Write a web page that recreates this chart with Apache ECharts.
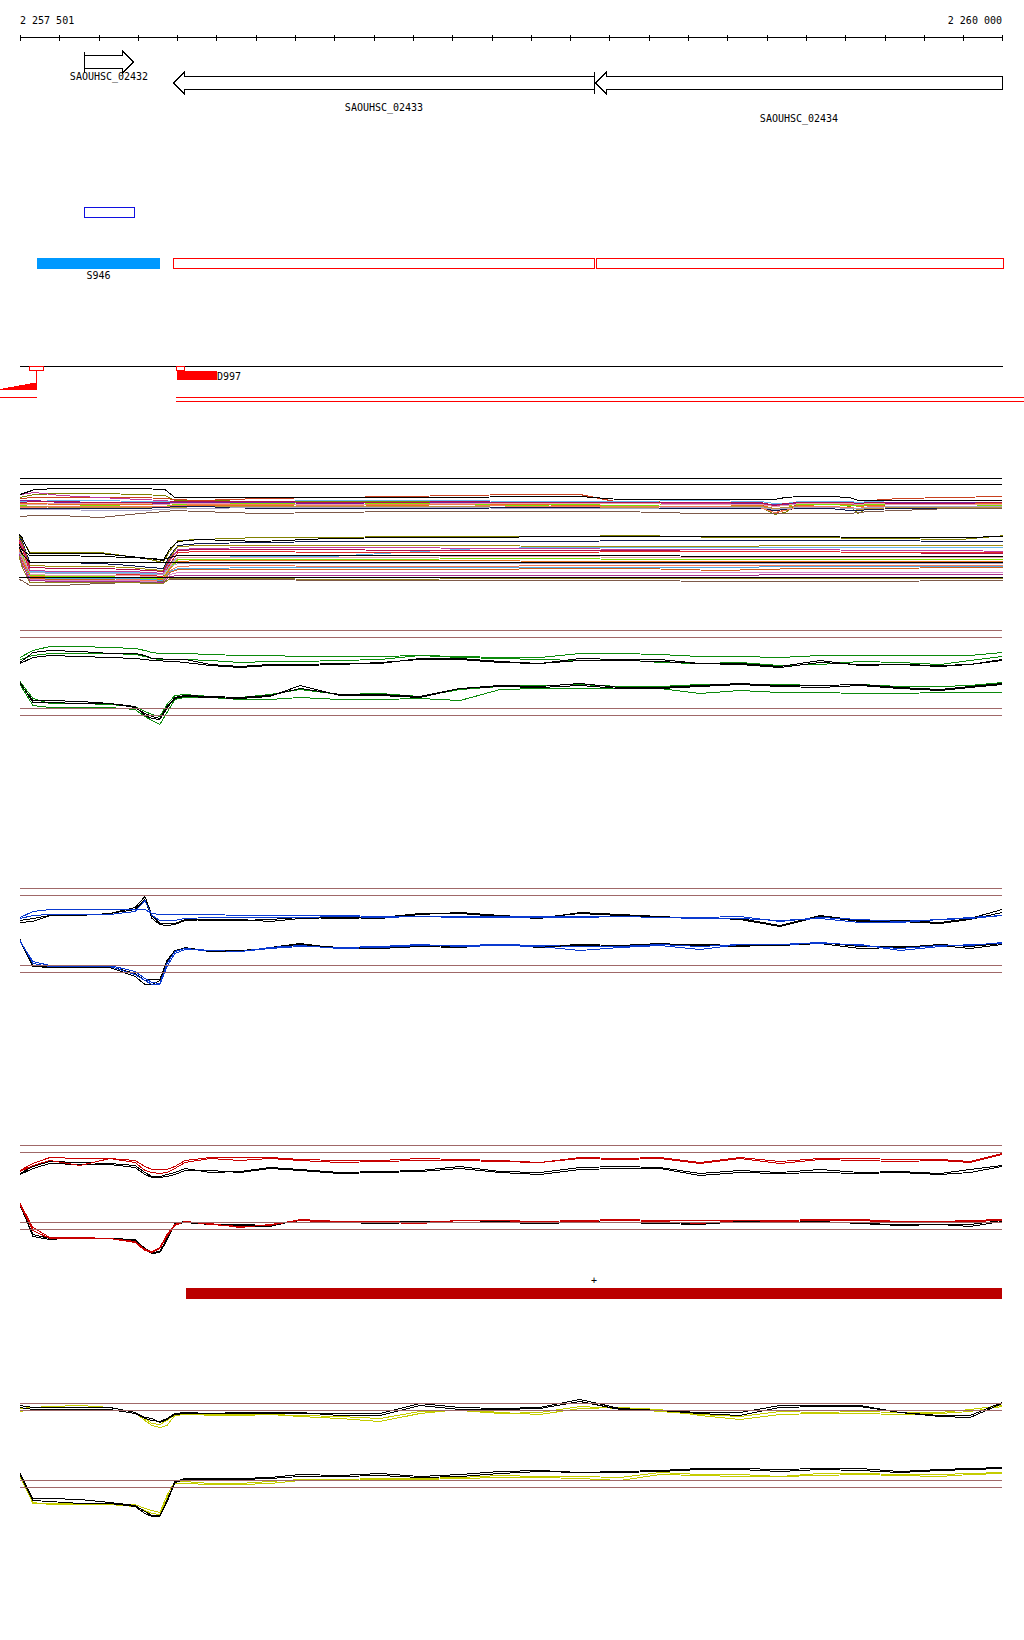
<!DOCTYPE html>
<html><head><meta charset="utf-8">
<script src="https://cdn.jsdelivr.net/npm/echarts@6/dist/echarts.min.js"></script>
<style>html,body{margin:0;padding:0;background:#fff}#c{width:1024px;height:1640px}#c svg path,#c svg line,#c svg rect,#c svg polygon,#c svg polyline{shape-rendering:crispEdges}</style>
</head><body><div id="c"></div>
<script>
// ---------------- DATA ----------------
const VIEW_START = 2257501, VIEW_END = 2260000;
const rulerTicks = [2257501,2257601,2257701,2257801,2257901,2258001,2258101,2258201,2258301,2258401,2258501,2258601,2258701,2258801,2258901,2259001,2259101,2259201,2259301,2259401,2259501,2259601,2259701,2259801,2259901,2260000];
const rulerLabels = ['2 257 501', '2 260 000'];

const geneNames  = ['SAOUHSC_02432', 'SAOUHSC_02433', 'SAOUHSC_02434'];
const geneStart  = [2257664, 2257890, 2258964];
const geneEnd    = [2257789, 2258962, 2260120];
const geneStrand = ['+', '-', '-'];

const motifStart = [2257664];
const motifEnd   = [2257791];
const blockNames = ['S946'];
const blockStart = [2257544];
const blockEnd   = [2257857];
const regionStart = [2257890, 2258967];
const regionEnd   = [2258962, 2260003];

const covMarkStart = [2257524, 2257898];
const covMarkEnd   = [2257560, 2257918];
const covPos = [2257450, 2257457, 2257470, 2257485, 2257498, 2257513, 2257527, 2257544];
const covVal = [1, 2, 3, 4, 5, 6, 7];
const segNames = ['D997'];
const segStart = [2257901];
const segEnd   = [2258002];
const readLineA = [[2257450, 2257544], [2257898, 2260056]];
const readLineB = [[2257898, 2260056]];

const barStart = [2257923];
const barEnd   = [2260000];
const barStrand = ['+'];

// multi-condition track
const MT_X = [2257501,2257539,2257603,2257705,2257806,2257870,2257895,2257959,2258112,2258290,2258468,2258621,2258773,2258926,2259028,2259231,2259384,2259422,2259448,2259486,2259562,2259613,2259634,2259664,2259740,2259867,2260000];
const mT1 = [96,101,102,102,102,101,93,93,93,93,93,93,94,94,91,91,91,91,93,94,94,93,90,90,90,90,90];
const mT2 = [93,96,97,97,96,95,90,90,89,89,89,88,88,89,89,88,84,76,78,87,88,84,77,84,87,88,88];
const mT3 = [92,93,93,93,93,92,91,90,92,93,94,95,96,96,88,88,88,77,81,87,87,85,85,90,92,93,94];
const mT4 = [96,98,95,93,91,90,88,87,87,88,88,87,87,88,88,87,87,85,86,87,87,87,85,87,87,87,87];
const mT5 = [89,89,90,90,89,89,88,89,89,90,90,90,89,89,89,90,89,87,87,89,89,89,88,89,90,90,90];
const mT6 = [87,87,86,86,86,86,85,85,85,86,85,86,86,85,85,86,85,82,83,85,86,86,84,85,86,87,87];
const mT7 = [85,84,84,85,84,84,86,86,87,86,87,86,85,86,85,86,86,84,85,86,86,85,85,86,86,86,85];
const mT8 = [90,90,88,88,87,87,88,88,88,87,88,88,88,87,88,88,87,86,86,88,88,87,86,88,88,88,88];
const mT9 = [86,86,87,87,87,86,87,87,86,86,86,87,87,87,87,86,86,84,85,87,87,87,86,87,86,86,86];
const mT10 = [88,89,89,88,88,88,89,89,89,88,88,89,88,88,88,88,88,85,87,88,88,88,87,88,87,87,88];
const mT11 = [84,84,83,83,83,83,83,84,84,84,84,84,83,83,83,84,84,82,83,84,84,83,81,82,83,83,83];
const mT12 = [82,82,82,82,82,83,84,84,82,82,82,82,83,83,82,82,82,80,81,82,82,80,80,81,82,82,82];
const mT13 = [83,83,84,84,84,84,85,86,86,85,86,86,84,84,84,84,83,78,80,84,84,83,82,84,84,84,84];
const mT14 = [74,75,75,73,77,79,80,79,77,78,79,79,79,79,79,77,77,77,77,77,77,77,78,79,80,82,82];
const mT15 = [81,81,81,80,80,81,82,82,83,83,83,83,82,82,82,83,83,81,82,83,83,82,82,83,84,84,84];

const MB_X = [2257491,2257506,2257526,2257603,2257705,2257781,2257832,2257865,2257883,2257903,2257959,2258112,2258290,2258468,2258672,2258875,2259079,2259283,2259486,2259690,2259893,2260010];
const mB1 = [59,53,37,37,37,34,32,30,42,49,51,49,52,53,53,54,54,54,54,53,53,54];
const mB2 = [58,52,38,38,38,34,31,28,40,50,51,53,53,54,54,54,55,53,53,52,51,55];
const mB3 = [57,50,28,28,27,25,23,22,35,45,47,48,49,49,49,49,50,50,50,50,49,49];
const mB4 = [56,48,25,24,24,23,21,20,33,44,45,45,45,45,45,44,44,44,45,45,45,45];
const mB5 = [42,38,19,18,18,18,17,17,28,33,33,34,34,38,42,43,43,43,43,43,43,43];
const mB6 = [55,46,23,22,22,21,20,19,32,40,41,41,41,40,40,40,40,39,39,38,37,37];
const mB7 = [54,45,20,19,19,19,18,17,30,41,42,43,43,43,42,42,41,41,41,40,40,39];
const mB8 = [53,43,18,17,17,16,15,14,27,38,39,39,38,38,38,38,39,39,39,38,38,38];
const mB9 = [52,41,35,35,34,33,32,31,33,35,35,35,35,35,35,35,35,34,34,34,34,34];
const mB10 = [51,39,16,15,15,15,14,13,25,33,33,33,33,33,34,34,33,33,33,33,33,33];
const mB11 = [50,37,15,14,14,13,12,12,23,31,31,31,31,31,32,32,31,31,31,31,31,31];
const mB12 = [49,35,14,13,13,12,11,11,22,29,30,30,30,30,30,29,29,29,29,29,29,29];
const mB13 = [50,37,28,28,28,28,28,28,28,28,28,28,28,28,28,28,28,28,28,28,28,28];
const mB14 = [48,32,13,12,12,11,10,10,20,24,25,25,24,24,24,25,25,25,25,25,25,25];
const mB15 = [40,30,13,12,12,12,11,10,19,22,22,23,23,23,23,23,23,23,24,24,24,24];
const mB16 = [47,30,12,11,11,10,9,9,18,21,21,21,21,21,21,22,22,20,22,22,23,23];
const mB17 = [46,28,11,10,10,10,9,8,16,18,18,18,18,18,18,18,18,18,18,18,18,18];
const mB18 = [45,27,10,9,9,9,8,8,14,15,15,15,15,15,15,15,15,15,16,16,16,16];
const mB19 = [13,13,13,13,13,13,13,13,13,13,13,13,13,13,13,13,13,13,13,13,13,13];
const mB20 = [12,10,5,5,7,8,8,9,11,11,11,11,10,10,10,10,10,9,9,9,10,10];
const mB21 = [44,24,8,8,8,8,7,7,12,12,12,12,11,11,12,12,12,12,12,12,12,12];
const mB22 = [43,34,18,17,17,17,16,16,24,27,27,27,27,27,27,27,27,27,27,27,27,27];
const multiRefs = [112, 106];

// paired condition tracks
const P_X = [2257501,2257534,2257577,2257654,2257730,2257794,2257819,2257837,2257857,2257875,2257895,2257921,2257985,2258061,2258137,2258214,2258315,2258417,2258519,2258621,2258723,2258824,2258926,2259028,2259130,2259231,2259333,2259435,2259537,2259639,2259740,2259842,2259919,2260000];

const gTopC1 = [73,80,84,84,83,82,80,78,77,77,77,77,76,75,75,74,74,74,75,74,73,73,77,77,76,74,74,73,75,75,75,75,75,78];
const gTopC2 = [71,75,77,77,77,76,74,72,71,71,71,71,70,68,69,69,70,71,75,73,72,71,70,71,68,67,68,65,66,69,68,66,70,74];
const gTopK1 = [68,78,80,79,77,77,75,72,72,71,71,71,66,64,66,66,67,67,72,72,69,67,72,71,71,67,67,64,70,65,66,65,66,71];
const gTopK2 = [67,73,75,74,73,72,71,70,70,69,69,68,65,63,65,65,66,68,71,71,68,67,70,70,69,67,66,63,68,66,66,64,66,70];
const gBotK1 = [48,28,28,27,27,24,15,12,11,22,33,35,34,33,35,42,36,36,34,42,45,44,47,43,43,45,47,45,45,46,43,41,44,47];
const gBotK2 = [47,30,30,29,27,23,17,14,12,24,32,34,33,32,34,45,35,35,33,42,44,43,45,42,42,44,46,44,43,45,42,40,43,46];
const gBotC1 = [46,25,23,23,23,21,14,10,6,18,31,33,33,31,31,33,31,31,32,30,41,42,42,42,42,37,40,38,38,37,37,38,38,38];
const gBotC2 = [49,32,27,27,26,24,19,16,14,26,35,36,34,33,36,41,36,37,34,41,44,45,46,44,44,46,46,46,45,46,44,44,45,48];
const greenRefs = [100, 93, 22, 15];

const bTopC1 = [73,79,81,81,81,81,81,77,76,76,76,76,76,75,75,75,75,74,74,74,74,74,74,74,73,73,74,69,73,71,69,71,72,75];
const bTopC2 = [72,75,76,76,76,79,90,75,70,70,70,72,73,73,73,73,74,73,74,73,73,73,73,74,73,72,72,70,72,68,68,71,73,75];
const bTopK1 = [70,72,75,75,77,83,94,75,67,67,67,71,70,70,71,73,72,73,77,77,74,72,78,76,74,72,72,65,75,70,70,68,72,81];
const bTopK2 = [68,69,75,75,77,81,91,72,66,65,66,70,71,71,69,72,73,72,76,78,75,73,77,75,73,73,71,64,74,69,69,67,71,78];
const bBotK1 = [51,24,23,23,23,14,6,6,10,28,39,43,39,39,43,47,42,42,44,43,46,43,45,44,46,46,45,45,47,42,43,46,44,47];
const bBotK2 = [50,24,24,24,24,17,10,11,11,30,40,42,39,40,42,46,43,43,45,44,45,44,46,45,47,45,44,46,48,44,44,45,42,46];
const bBotC1 = [50,27,24,24,24,16,10,6,6,24,37,41,40,39,42,44,43,44,46,44,45,44,40,43,45,41,46,46,47,46,40,44,46,47];
const bBotC2 = [49,29,25,25,25,19,12,8,7,27,39,42,40,39,43,45,42,43,45,45,46,45,44,44,46,44,46,46,48,45,42,45,45,48];
const blueRefs = [102, 95, 25, 18];

const rTopC1 = [90,97,103,102,102,100,94,91,91,91,94,100,103,103,103,101,100,100,102,101,100,98,103,102,103,98,103,99,102,102,101,101,99,107];
const rTopC2 = [89,95,100,95,102,98,90,88,87,88,92,98,102,100,102,100,98,99,100,100,99,98,102,101,102,97,102,97,101,100,99,100,98,106];
const rTopK1 = [87,94,99,98,97,95,88,84,84,86,88,92,88,89,93,91,88,89,90,94,89,88,93,94,93,87,90,88,91,88,89,87,91,95];
const rTopK2 = [86,92,97,96,96,93,86,83,83,84,86,90,90,88,92,90,87,88,89,92,88,86,91,92,92,85,88,87,88,87,88,86,88,94];
const rBotC1 = [56,30,22,22,22,18,10,8,12,24,35,39,36,34,35,41,39,38,37,40,40,39,40,41,40,40,40,40,41,41,39,39,40,41];
const rBotC2 = [57,33,23,23,22,19,11,9,13,26,36,39,37,33,36,40,38,39,38,40,40,38,39,40,39,37,40,39,40,40,38,38,39,40];
const rBotK1 = [56,24,21,23,22,20,11,7,8,20,37,39,36,35,34,41,38,38,39,38,39,37,39,38,38,37,40,38,39,37,35,36,36,40];
const rBotK2 = [55,26,22,23,22,21,12,8,9,22,36,38,36,36,35,40,38,37,38,38,38,37,38,38,37,36,39,38,39,37,36,36,34,39];
const redRefs = [115, 108, 38, 31];

const yTopK1 = [115,113,113,113,113,108,103,102,98,101,106,107,107,107,107,107,107,107,117,113,112,113,121,112,110,108,108,115,115,115,108,105,105,118];
const yTopK2 = [113,111,111,111,111,107,102,100,99,102,107,108,107,108,108,108,105,105,115,111,111,112,119,111,110,107,105,113,114,114,108,104,103,117];
const yTopC1 = [112,113,114,115,113,108,100,95,93,95,105,106,106,106,106,104,102,99,107,111,108,106,112,113,111,105,101,106,107,107,106,107,109,114];
const yTopC2 = [109,111,111,111,111,107,102,97,96,100,106,107,105,105,106,105,104,102,109,110,107,108,114,112,109,106,104,109,108,109,108,108,111,115];
const yBotK1 = [47,22,22,21,18,15,9,5,5,20,39,42,42,42,43,46,45,47,44,46,49,50,48,49,50,52,52,51,52,52,49,51,52,53];
const yBotK2 = [46,20,19,17,17,14,7,4,4,18,38,41,41,41,42,44,44,45,43,44,47,49,48,48,49,51,51,49,51,50,48,50,51,52];
const yBotC1 = [45,17,17,17,17,16,12,10,8,25,39,39,37,37,39,41,41,42,42,43,45,44,44,43,48,46,46,44,47,47,46,46,47,48];
const yBotC2 = [44,18,16,16,16,14,10,7,6,22,37,37,36,36,37,40,40,41,41,42,43,43,42,40,46,45,44,44,45,46,45,44,46,47];
const yellowRefs = [117, 110, 40, 33];

// ---------------- LAYOUT / STYLE ----------------
const FONT = "10px 'DejaVu Sans Mono', monospace";
const PLOT_LEFT = 20, PLOT_W = 982;
const RULER_Y = 37.5;
const geneRowY = [62, 83, 83];
const geneLabelY = [76.5, 107, 118.5];
const HEAD = 11, BODY_H = 6.5, HEAD_H = 11;
const MOTIF_Y = 207.5, MOTIF_H = 10;
const BLOCK_Y = 258, BLOCK_H = 11, BLOCK_LABEL_Y = 275;
const REGION_Y = 258.5, REGION_H = 10;
const COV_AXIS_Y = 366.5, COV_BASE = 390, MARK_H = 4;
const SEG_Y = 371, SEG_H = 9;
const READ_A_Y = 397.5, READ_B_Y = 401.5;
const BAR_Y = 1288, BAR_H = 11, BAR_LABEL_Y = 1280;
const REF_COLOR = '#a06868';
const GREEN = '#0b8a0b', BLUE = '#0a3ad0', RED = '#c80000', YELLOW = '#c4cc00', BLACK = '#000000';
const tracks = [
  {top: 470, height: 120},  // multi
  {top: 620, height: 110},  // green
  {top: 880, height: 110},  // blue
  {top: 1140, height: 120}, // red
  {top: 1390, height: 130}  // yellow
];
const multiTopColors = ['#000000','#808000','#c8401e','#c03c9c','#66b8ee','#e8701e','#7ee000','#7a1e9e','#eaa0a8','#b0104e','#b89440','#101a4c','#f47a58','#7e5a4a','#aaa4c8'];
const multiBotColors = ['#000000','#808000','#101a4c','#a08c10','#66b8ee','#b0104e','#c03c9c','#e02828','#000000','#eaa0a8','#7ee000','#e8701e','#000000','#f47a58','#4ea8e0','#d0601e','#d888c8','#a8308c','#000000','#7e5a4a','#908020','#aaa4c8'];

// ---------------- HELPERS ----------------
const crisp = v => Math.round(v) + 0.5;
const X = (api, bp) => api.coord([bp, 0])[0];
function txt(text, x, y, align) {
  return {type: 'text', style: {text, x, y, font: FONT, fill: '#000', align, verticalAlign: 'middle', textAlign: align, textVerticalAlign: 'middle'}};
}
function seg(x1, y1, x2, y2, color) {
  return {type: 'line', shape: {x1, y1, x2, y2}, style: {stroke: color, lineWidth: 1}};
}
function custom(data, renderItem) {
  return {type: 'custom', xAxisIndex: 0, yAxisIndex: 0, data, renderItem, silent: true, animation: false, clip: false, z: 3};
}
function trackLine(gi, xs, vals, color, z) {
  return {type: 'line', xAxisIndex: gi, yAxisIndex: gi, data: xs.map((x, i) => [x, vals[i]]),
    symbol: 'none', showSymbol: false, lineStyle: {color, width: 1}, itemStyle: {color},
    clip: false, silent: true, animation: false, z: z || 2, emphasis: {disabled: true}};
}
function refSeries(gi, vals, color) {
  return {type: 'line', xAxisIndex: gi, yAxisIndex: gi, data: [[VIEW_START, vals[0]]], symbol: 'none', showSymbol: false,
    lineStyle: {opacity: 0}, silent: true, animation: false, z: 1,
    markLine: {silent: true, animation: false, symbol: ['none', 'none'], label: {show: false},
      lineStyle: {color, width: 1, type: 'solid'}, emphasis: {disabled: true},
      data: vals.map(v => ({yAxis: v}))}};
}

// ---------------- SERIES ----------------
const series = [];

// ruler
series.push(custom([[VIEW_START, VIEW_END]], (p, api) => {
  const x0 = X(api, VIEW_START), x1 = X(api, VIEW_END);
  const ch = [seg(x0, RULER_Y, x1, RULER_Y, '#000')];
  rulerTicks.forEach(t => { const x = crisp(X(api, t)); ch.push(seg(x, 35, x, 41, '#000')); });
  ch.push(txt(rulerLabels[0], x0, 20.5, 'left'));
  ch.push(txt(rulerLabels[1], x1, 20.5, 'right'));
  return {type: 'group', children: ch};
}));

// genes
series.push(custom(geneNames.map((n, i) => [geneStart[i], geneEnd[i], i]), (p, api) => {
  const i = api.value(2);
  const s = geneStart[i], e = geneEnd[i];
  const xa = crisp(X(api, Math.max(s, VIEW_START))), xb = crisp(X(api, Math.min(e, VIEW_END)));
  const cy = geneRowY[i], t = cy - BODY_H, b = cy + BODY_H;
  let pts, mark = null;
  if (geneStrand[i] === '+') {
    const h = xb - HEAD;
    pts = [[xa, t], [h, t], [h, cy - HEAD_H], [xb, cy], [h, cy + HEAD_H], [h, b], [xa, b]];
    if (s >= VIEW_START) mark = seg(xa, cy - HEAD_H + 0.5, xa, cy + HEAD_H - 0.5, '#000');
  } else {
    const h = xa + HEAD;
    pts = [[xb, t], [h, t], [h, cy - HEAD_H], [xa, cy], [h, cy + HEAD_H], [h, b], [xb, b]];
    if (e <= VIEW_END) mark = seg(xb, cy - HEAD_H, xb, cy + HEAD_H, '#000');
  }
  const ch = [{type: 'polygon', shape: {points: pts}, style: {fill: '#fff', stroke: '#000', lineWidth: 1}}];
  if (mark) ch.push(mark);
  ch.push(txt(geneNames[i], (xa + xb) / 2, geneLabelY[i], 'center'));
  return {type: 'group', children: ch};
}));

// motif outline box
series.push(custom(motifStart.map((s, i) => [s, motifEnd[i]]), (p, api) => {
  const xa = crisp(X(api, api.value(0))), xb = crisp(X(api, api.value(1)));
  return {type: 'rect', shape: {x: xa, y: MOTIF_Y, width: xb - xa, height: MOTIF_H}, style: {fill: null, stroke: '#1010e0', lineWidth: 1}};
}));

// S946 block
series.push(custom(blockNames.map((n, i) => [blockStart[i], blockEnd[i], i]), (p, api) => {
  const i = api.value(2);
  const xa = Math.round(X(api, blockStart[i])), xb = Math.round(X(api, blockEnd[i]));
  return {type: 'group', children: [
    {type: 'rect', shape: {x: xa, y: BLOCK_Y, width: xb - xa, height: BLOCK_H}, style: {fill: '#0099ff'}},
    txt(blockNames[i], (xa + xb) / 2, BLOCK_LABEL_Y, 'center')
  ]};
}));

// red outlined regions
series.push(custom(regionStart.map((s, i) => [s, regionEnd[i]]), (p, api) => {
  const xa = crisp(X(api, api.value(0))), xb = crisp(X(api, api.value(1)));
  return {type: 'rect', shape: {x: xa, y: REGION_Y, width: xb - xa, height: REGION_H}, style: {fill: null, stroke: '#ff0000', lineWidth: 1}};
}));

// coverage axis line, marks, steps
series.push(custom([[VIEW_START, VIEW_END]], (p, api) => {
  const ch = [seg(X(api, VIEW_START), COV_AXIS_Y, X(api, 2260003), COV_AXIS_Y, '#000')];
  covMarkStart.forEach((s, i) => {
    const xa = crisp(X(api, s)), xb = crisp(X(api, covMarkEnd[i]));
    ch.push({type: 'rect', shape: {x: xa, y: COV_AXIS_Y, width: xb - xa, height: MARK_H}, style: {fill: '#fff', stroke: '#ff0000', lineWidth: 1}});
  });
  const pts = [[X(api, covPos[0]), COV_BASE]];
  covVal.forEach((v, i) => {
    pts.push([X(api, covPos[i]), COV_BASE - v]);
    pts.push([X(api, covPos[i + 1]), COV_BASE - v]);
  });
  pts.push([X(api, covPos[covPos.length - 1]), COV_BASE]);
  ch.push({type: 'polygon', shape: {points: pts}, style: {fill: '#ff0000'}});
  const xl = crisp(X(api, covPos[covPos.length - 1])) - 1;
  ch.push(seg(xl, COV_AXIS_Y + MARK_H, xl, COV_BASE, '#ff0000'));
  return {type: 'group', children: ch};
}));

// D997 segment
series.push(custom(segNames.map((n, i) => [segStart[i], segEnd[i], i]), (p, api) => {
  const i = api.value(2);
  const xa = Math.round(X(api, segStart[i])), xb = Math.round(X(api, segEnd[i]));
  return {type: 'group', children: [
    {type: 'rect', shape: {x: xa, y: SEG_Y, width: xb - xa, height: SEG_H}, style: {fill: '#ff0000'}},
    txt(segNames[i], xb, SEG_Y + SEG_H / 2 + 0.5, 'left')
  ]};
}));

// read lines
series.push(custom([[VIEW_START, VIEW_END]], (p, api) => {
  const ch = [];
  readLineA.forEach(r => ch.push(seg(X(api, r[0]), READ_A_Y, X(api, r[1]), READ_A_Y, '#ff0000')));
  readLineB.forEach(r => ch.push(seg(X(api, r[0]), READ_B_Y, X(api, r[1]), READ_B_Y, '#ff0000')));
  return {type: 'group', children: ch};
}));

// red bar with strand
series.push(custom(barStart.map((s, i) => [s, barEnd[i], i]), (p, api) => {
  const i = api.value(2);
  const xa = Math.round(X(api, barStart[i])), xb = Math.round(X(api, barEnd[i]));
  return {type: 'group', children: [
    {type: 'rect', shape: {x: xa, y: BAR_Y, width: xb - xa, height: BAR_H}, style: {fill: '#bb0000'}},
    txt(barStrand[i], (xa + xb) / 2, BAR_LABEL_Y, 'center')
  ]};
}));

// multi-condition track (grid 1)
series.push(refSeries(1, multiRefs, '#000'));
[mT1,mT2,mT3,mT4,mT5,mT6,mT7,mT8,mT9,mT10,mT11,mT12,mT13,mT14,mT15].forEach((v, i) =>
  series.push(trackLine(1, MT_X, v, multiTopColors[i], multiTopColors[i] === '#000000' ? 3 : 2)));
[mB1,mB2,mB3,mB4,mB5,mB6,mB7,mB8,mB9,mB10,mB11,mB12,mB13,mB14,mB15,mB16,mB17,mB18,mB19,mB20,mB21,mB22].forEach((v, i) =>
  series.push(trackLine(1, MB_X, v, multiBotColors[i], multiBotColors[i] === '#000000' ? 3 : 2)));

// green (grid 2)
series.push(refSeries(2, greenRefs, REF_COLOR));
[gTopC1, gTopC2, gBotC1, gBotC2].forEach(v => series.push(trackLine(2, P_X, v, GREEN, 2)));
[gTopK1, gTopK2, gBotK1, gBotK2].forEach(v => series.push(trackLine(2, P_X, v, BLACK, 3)));

// blue (grid 3)
series.push(refSeries(3, blueRefs, REF_COLOR));
[bTopK1, bTopK2, bBotK1, bBotK2].forEach(v => series.push(trackLine(3, P_X, v, BLACK, 2)));
[bTopC1, bTopC2, bBotC1, bBotC2].forEach(v => series.push(trackLine(3, P_X, v, BLUE, 3)));

// red (grid 4)
series.push(refSeries(4, redRefs, REF_COLOR));
[rTopK1, rTopK2, rBotK1, rBotK2].forEach(v => series.push(trackLine(4, P_X, v, BLACK, 2)));
[rTopC1, rTopC2, rBotC1, rBotC2].forEach(v => series.push(trackLine(4, P_X, v, RED, 3)));

// yellow (grid 5)
series.push(refSeries(5, yellowRefs, REF_COLOR));
[yTopC1, yTopC2, yBotC1, yBotC2].forEach(v => series.push(trackLine(5, P_X, v, YELLOW, 2)));
[yTopK1, yTopK2, yBotK1, yBotK2].forEach(v => series.push(trackLine(5, P_X, v, BLACK, 3)));

// ---------------- OPTION ----------------
const grids = [{left: PLOT_LEFT, top: 0, width: PLOT_W, height: 1640}]
  .concat(tracks.map(t => ({left: PLOT_LEFT, top: t.top + 0.5, width: PLOT_W, height: t.height})));
const option = {
  animation: false,
  backgroundColor: '#ffffff',
  grid: grids,
  xAxis: grids.map((g, i) => ({type: 'value', gridIndex: i, min: VIEW_START, max: VIEW_END, show: false, splitLine: {show: false}})),
  yAxis: grids.map((g, i) => i === 0
    ? {type: 'value', gridIndex: 0, min: 0, max: 1640, inverse: true, show: false, splitLine: {show: false}}
    : {type: 'value', gridIndex: i, min: 0, max: tracks[i - 1].height, show: false, splitLine: {show: false}}),
  series
};
const chart = echarts.init(document.getElementById('c'), null, {renderer: 'svg', width: 1024, height: 1640});
chart.setOption(option);
</script></body></html>
